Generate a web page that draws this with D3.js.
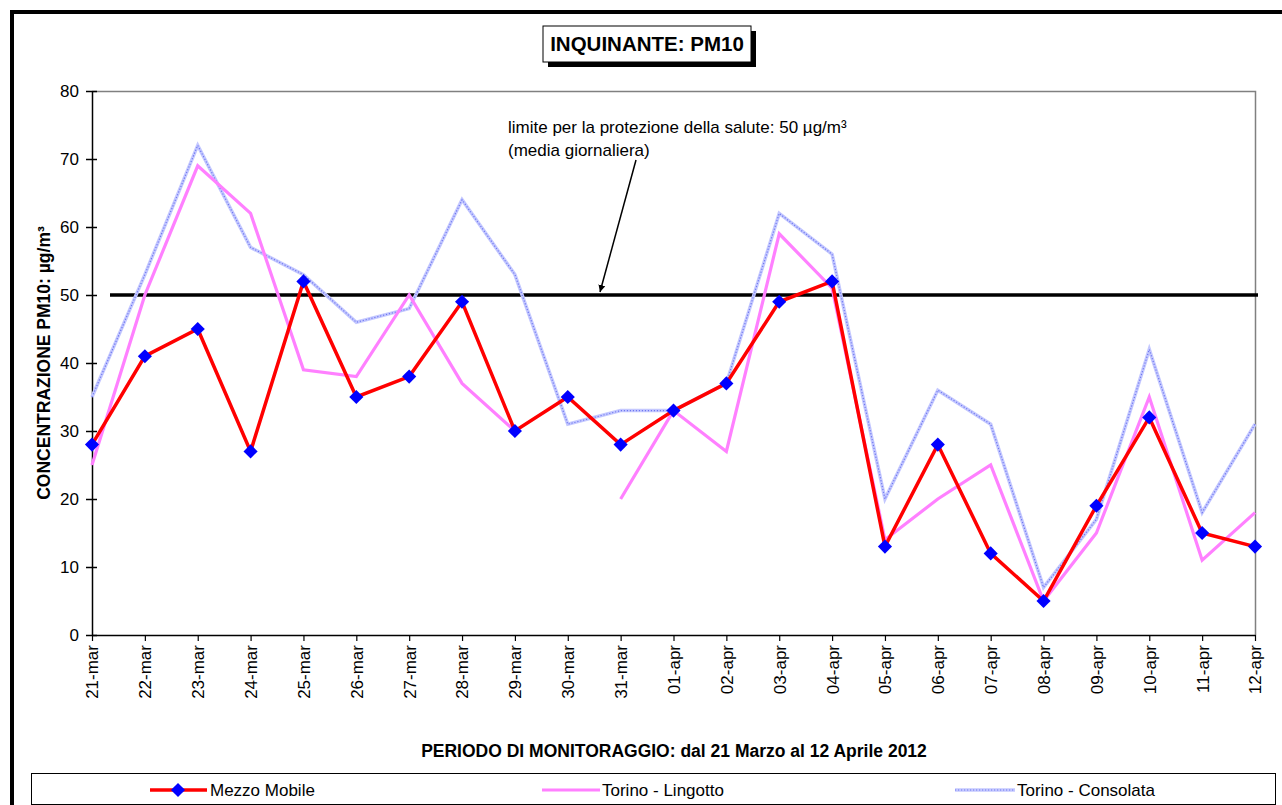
<!DOCTYPE html>
<html>
<head>
<meta charset="utf-8">
<script src="https://cdn.jsdelivr.net/npm/d3@7"></script>
<style>
  body { margin: 0; background: #fff; }
  text { font-family: "Liberation Sans", Arial, sans-serif; }
</style>
</head>
<body>
<div id="chart"></div>
<script>
// data
const days = ['21-mar', '22-mar', '23-mar', '24-mar', '25-mar', '26-mar', '27-mar', '28-mar',
  '29-mar', '30-mar', '31-mar', '01-apr', '02-apr', '03-apr', '04-apr', '05-apr', '06-apr',
  '07-apr', '08-apr', '09-apr', '10-apr', '11-apr', '12-apr'];
const mezzoMobile = [28, 41, 45, 27, 52, 35, 38, 49, 30, 35, 28, 33, 37, 49, 52, 13, 28, 12, 5, 19, 32, 15, 13];
const lingotto = [25, 50, 69, 62, 39, 38, 50, 37, 30, null, 20, 33, 27, 59, 51, 14, 20, 25, 5, 15, 35, 11, 18];
const consolata = [35, 53, 72, 57, 53, 46, 48, 64, 53, 31, 33, 33, 37, 62, 56, 20, 36, 31, 7, 17, 42, 18, 31];
const yTicks = [0, 10, 20, 30, 40, 50, 60, 70, 80];
const limit = 50;

const W = 1282, H = 805;
const margin = { top: 91, left: 92, right: 27, bottom: 170 };
const width = W - margin.left - margin.right,
  height = H - margin.top - margin.bottom;
const fs = 17;

const svg = d3.select('#chart').append('svg')
  .attr('width', W).attr('height', H);

// outer frame
svg.append('rect')
  .attr('x', 12).attr('y', 12)
  .attr('width', W).attr('height', H)
  .attr('fill', 'none').attr('stroke', '#000').attr('stroke-width', 4);

const x = d3.scalePoint().domain(days).range([0, width]);
const y = d3.scaleLinear().domain([0, 80]).range([height, 0]);

const g = svg.append('g').attr('transform', `translate(${margin.left}, ${margin.top})`);

// plot area border (top + right, grey)
g.append('path')
  .attr('d', `M0,0.5H${width + 0.5}V${height}`)
  .attr('fill', 'none').attr('stroke', '#808080').attr('stroke-width', 1.5);

// axes
const yAxis = g.append('g')
  .call(d3.axisLeft(y).tickValues(yTicks).tickSize(11).tickPadding(2).tickSizeOuter(0));
yAxis.selectAll('text').attr('font-size', fs).attr('fill', '#000')
  .style('font-family', '"Liberation Sans", Arial, sans-serif');
yAxis.select('.domain').attr('stroke', '#000').attr('stroke-width', 1.5);
yAxis.selectAll('.tick line').attr('stroke-width', 1.5).attr('transform', 'translate(5,0)');

const xAxis = g.append('g').attr('transform', `translate(0, ${height})`)
  .call(d3.axisBottom(x).tickSize(6).tickSizeOuter(0));
xAxis.select('.domain').attr('stroke', '#000').attr('stroke-width', 1.5);
xAxis.selectAll('.tick line').attr('stroke-width', 1.2);
xAxis.selectAll('text')
  .attr('font-size', fs).attr('fill', '#000')
  .style('font-family', '"Liberation Sans", Arial, sans-serif')
  .attr('transform', 'rotate(-90)')
  .attr('text-anchor', 'end')
  .attr('x', -10).attr('y', 0).attr('dy', '0.35em');

// limit line
g.append('line')
  .attr('x1', 18).attr('x2', width + 3)
  .attr('y1', y(limit)).attr('y2', y(limit))
  .attr('stroke', '#000').attr('stroke-width', 3.5);

const line = d3.line()
  .defined((d) => d != null)
  .x((d, i) => x(days[i]))
  .y((d) => y(d));

// Torino - Consolata (hatched light blue)
g.append('path').datum(consolata)
  .attr('d', line).attr('fill', 'none')
  .attr('stroke', '#c4c8ff').attr('stroke-width', 3.5).attr('stroke-linejoin', 'miter');
g.append('path').datum(consolata)
  .attr('d', line).attr('fill', 'none')
  .attr('stroke', '#6f78f0').attr('stroke-width', 1.2).attr('stroke-dasharray', '1.2,1.8');

// Torino - Lingotto
g.append('path').datum(lingotto)
  .attr('d', line).attr('fill', 'none')
  .attr('stroke', '#ff80ff').attr('stroke-width', 3.2);

// Mezzo Mobile
g.append('path').datum(mezzoMobile)
  .attr('d', line).attr('fill', 'none')
  .attr('stroke', '#ff0000').attr('stroke-width', 3.5);

const diamond = d3.symbol().type(d3.symbolSquare).size(100);
g.selectAll('.mm')
  .data(mezzoMobile)
  .join('path')
  .attr('class', 'mm')
  .attr('d', diamond)
  .attr('transform', (d, i) => `translate(${x(days[i])}, ${y(d)}) rotate(45)`)
  .attr('fill', '#0000ff');

// annotation
const note = svg.append('g');
note.append('text').attr('x', 508).attr('y', 133).attr('font-size', fs)
  .text('limite per la protezione della salute: 50 µg/m³');
note.append('text').attr('x', 508).attr('y', 156).attr('font-size', fs)
  .text('(media giornaliera)');
svg.append('defs').append('marker')
  .attr('id', 'arrow').attr('viewBox', '0 0 10 10')
  .attr('refX', 10).attr('refY', 5)
  .attr('markerWidth', 7).attr('markerHeight', 9)
  .attr('markerUnits', 'userSpaceOnUse')
  .attr('orient', 'auto')
  .append('path').attr('d', 'M0,0L10,5L0,10z').attr('fill', '#000');
note.append('line')
  .attr('x1', 636).attr('y1', 160).attr('x2', 600).attr('y2', 292)
  .attr('stroke', '#000').attr('stroke-width', 1.5)
  .attr('marker-end', 'url(#arrow)');

// title box with shadow
const tb = { x: 543, y: 26, w: 208, h: 36 };
svg.append('rect').attr('x', tb.x + 5).attr('y', tb.y + 5)
  .attr('width', tb.w).attr('height', tb.h).attr('fill', '#000');
svg.append('rect').attr('x', tb.x).attr('y', tb.y)
  .attr('width', tb.w).attr('height', tb.h)
  .attr('fill', '#fff').attr('stroke', '#000').attr('stroke-width', 1);
svg.append('text').attr('x', tb.x + tb.w / 2).attr('y', tb.y + 25)
  .attr('text-anchor', 'middle').attr('font-size', 20.5).attr('font-weight', 'bold')
  .text('INQUINANTE: PM10');

// axis titles
svg.append('text')
  .attr('transform', `translate(50, ${margin.top + height / 2}) rotate(-90)`)
  .attr('text-anchor', 'middle').attr('font-size', 17.5).attr('font-weight', 'bold')
  .text('CONCENTRAZIONE PM10: µg/m³');
svg.append('text')
  .attr('x', 674).attr('y', 757)
  .attr('text-anchor', 'middle').attr('font-size', 17.5).attr('font-weight', 'bold')
  .text('PERIODO DI MONITORAGGIO: dal 21 Marzo al 12 Aprile 2012');

// legend
const legend = svg.append('g');
legend.append('rect')
  .attr('x', 31.5).attr('y', 773.5).attr('width', 1244).attr('height', 31)
  .attr('fill', '#fff').attr('stroke', '#000').attr('stroke-width', 1);

const lgY = 790;
// Mezzo Mobile
legend.append('line').attr('x1', 150).attr('x2', 207).attr('y1', lgY).attr('y2', lgY)
  .attr('stroke', '#ff0000').attr('stroke-width', 3.5);
legend.append('path').attr('d', diamond)
  .attr('transform', `translate(178, ${lgY}) rotate(45)`).attr('fill', '#0000ff');
legend.append('text').attr('x', 210).attr('y', lgY + 6).attr('font-size', fs).text('Mezzo Mobile');
// Lingotto
legend.append('line').attr('x1', 542).attr('x2', 600).attr('y1', lgY).attr('y2', lgY)
  .attr('stroke', '#ff80ff').attr('stroke-width', 3.2);
legend.append('text').attr('x', 602).attr('y', lgY + 6).attr('font-size', fs).text('Torino - Lingotto');
// Consolata
legend.append('line').attr('x1', 955).attr('x2', 1015).attr('y1', lgY).attr('y2', lgY)
  .attr('stroke', '#c4c8ff').attr('stroke-width', 3.5);
legend.append('line').attr('x1', 955).attr('x2', 1015).attr('y1', lgY).attr('y2', lgY)
  .attr('stroke', '#6f78f0').attr('stroke-width', 1.2).attr('stroke-dasharray', '1.2,1.8');
legend.append('text').attr('x', 1017).attr('y', lgY + 6).attr('font-size', fs).text('Torino - Consolata');
</script>
</body>
</html>
